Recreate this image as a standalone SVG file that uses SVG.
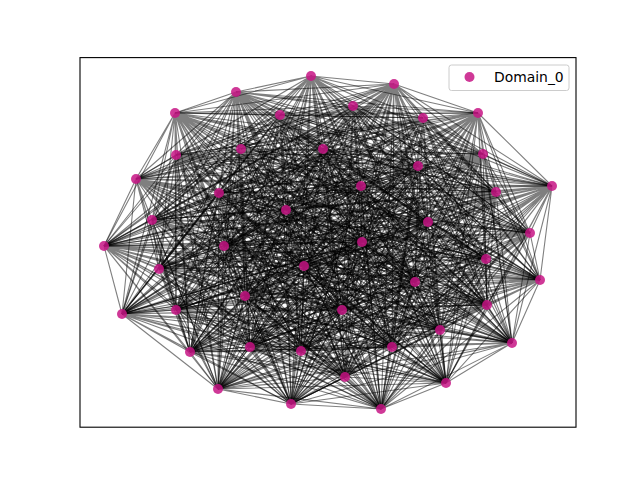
<svg xmlns="http://www.w3.org/2000/svg" width="640" height="480" viewBox="0 0 640 480">
<style>
.e{fill:none;stroke:#000;stroke-opacity:0.5;stroke-width:1.1}
.n{fill:#c71585;fill-opacity:0.85}
.lt{font-family:"DejaVu Sans",sans-serif;font-size:13.9px;fill:#000}
</style>
<rect x="0" y="0" width="640" height="480" fill="#fff"/>
<g id="edges">
<path class="e" d="M311 76L394 84M311 76L236 92M311 76L353 106M311 76L280 115M311 76L175 113M311 76L423 118M311 76L478 113M311 76L241 149M311 76L323 149M311 76L176 155M311 76L483 154M311 76L418 166M311 76L136 179M311 76L361 186M311 76L552 186M311 76L496 192M311 76L219 193M311 76L286 210M311 76L152 220M311 76L428 222M311 76L530 233M311 76L224 246M311 76L362 242M311 76L104 246M311 76L486 259M311 76L159 269M311 76L304 266M311 76L540 280M311 76L415 282M311 76L245 296M311 76L176 310M311 76L122 314M311 76L487 305M311 76L342 310M311 76L440 330M311 76L512 343M311 76L190 352M311 76L250 347M311 76L301 351M311 76L392 347M311 76L345 377M311 76L218 389M311 76L446 383M311 76L291 404M311 76L381 409"/>
<path class="e" d="M394 84L236 92M394 84L353 106M394 84L280 115M394 84L175 113M394 84L423 118M394 84L478 113M394 84L241 149M394 84L323 149M394 84L176 155M394 84L483 154M394 84L418 166M394 84L136 179M394 84L361 186M394 84L552 186M394 84L496 192M394 84L219 193M394 84L286 210M394 84L152 220M394 84L428 222M394 84L530 233M394 84L224 246M394 84L362 242M394 84L104 246M394 84L486 259M394 84L159 269M394 84L304 266M394 84L540 280M394 84L415 282M394 84L245 296M394 84L176 310M394 84L122 314M394 84L487 305M394 84L342 310M394 84L440 330M394 84L512 343M394 84L190 352M394 84L250 347M394 84L301 351M394 84L392 347M394 84L345 377M394 84L218 389M394 84L446 383M394 84L291 404M394 84L381 409"/>
<path class="e" d="M236 92L353 106M236 92L280 115M236 92L175 113M236 92L423 118M236 92L478 113M236 92L241 149M236 92L323 149M236 92L176 155M236 92L483 154M236 92L418 166M236 92L136 179M236 92L361 186M236 92L552 186M236 92L496 192M236 92L219 193M236 92L286 210M236 92L152 220M236 92L428 222M236 92L530 233M236 92L224 246M236 92L362 242M236 92L104 246M236 92L486 259M236 92L159 269M236 92L304 266M236 92L540 280M236 92L415 282M236 92L245 296M236 92L176 310M236 92L122 314M236 92L487 305M236 92L342 310M236 92L440 330M236 92L512 343M236 92L190 352M236 92L250 347M236 92L301 351M236 92L392 347M236 92L345 377M236 92L218 389M236 92L446 383M236 92L291 404M236 92L381 409"/>
<path class="e" d="M353 106L280 115M353 106L175 113M353 106L423 118M353 106L478 113M353 106L241 149M353 106L323 149M353 106L176 155M353 106L483 154M353 106L418 166M353 106L136 179M353 106L361 186M353 106L552 186M353 106L496 192M353 106L219 193M353 106L286 210M353 106L152 220M353 106L428 222M353 106L530 233M353 106L224 246M353 106L362 242M353 106L104 246M353 106L486 259M353 106L159 269M353 106L304 266M353 106L540 280M353 106L415 282M353 106L245 296M353 106L176 310M353 106L122 314M353 106L487 305M353 106L342 310M353 106L440 330M353 106L512 343M353 106L190 352M353 106L250 347M353 106L301 351M353 106L392 347M353 106L345 377M353 106L218 389M353 106L446 383M353 106L291 404M353 106L381 409"/>
<path class="e" d="M280 115L175 113M280 115L423 118M280 115L478 113M280 115L241 149M280 115L323 149M280 115L176 155M280 115L483 154M280 115L418 166M280 115L136 179M280 115L361 186M280 115L552 186M280 115L496 192M280 115L219 193M280 115L286 210M280 115L152 220M280 115L428 222M280 115L530 233M280 115L224 246M280 115L362 242M280 115L104 246M280 115L486 259M280 115L159 269M280 115L304 266M280 115L540 280M280 115L415 282M280 115L245 296M280 115L176 310M280 115L122 314M280 115L487 305M280 115L342 310M280 115L440 330M280 115L512 343M280 115L190 352M280 115L250 347M280 115L301 351M280 115L392 347M280 115L345 377M280 115L218 389M280 115L446 383M280 115L291 404M280 115L381 409"/>
<path class="e" d="M175 113L423 118M175 113L478 113M175 113L241 149M175 113L323 149M175 113L176 155M175 113L483 154M175 113L418 166M175 113L136 179M175 113L361 186M175 113L552 186M175 113L496 192M175 113L219 193M175 113L286 210M175 113L152 220M175 113L428 222M175 113L530 233M175 113L224 246M175 113L362 242M175 113L104 246M175 113L486 259M175 113L159 269M175 113L304 266M175 113L540 280M175 113L415 282M175 113L245 296M175 113L176 310M175 113L122 314M175 113L487 305M175 113L342 310M175 113L440 330M175 113L512 343M175 113L190 352M175 113L250 347M175 113L301 351M175 113L392 347M175 113L345 377M175 113L218 389M175 113L446 383M175 113L291 404M175 113L381 409"/>
<path class="e" d="M423 118L478 113M423 118L241 149M423 118L323 149M423 118L176 155M423 118L483 154M423 118L418 166M423 118L136 179M423 118L361 186M423 118L552 186M423 118L496 192M423 118L219 193M423 118L286 210M423 118L152 220M423 118L428 222M423 118L530 233M423 118L224 246M423 118L362 242M423 118L104 246M423 118L486 259M423 118L159 269M423 118L304 266M423 118L540 280M423 118L415 282M423 118L245 296M423 118L176 310M423 118L122 314M423 118L487 305M423 118L342 310M423 118L440 330M423 118L512 343M423 118L190 352M423 118L250 347M423 118L301 351M423 118L392 347M423 118L345 377M423 118L218 389M423 118L446 383M423 118L291 404M423 118L381 409"/>
<path class="e" d="M478 113L241 149M478 113L323 149M478 113L176 155M478 113L483 154M478 113L418 166M478 113L136 179M478 113L361 186M478 113L552 186M478 113L496 192M478 113L219 193M478 113L286 210M478 113L152 220M478 113L428 222M478 113L530 233M478 113L224 246M478 113L362 242M478 113L104 246M478 113L486 259M478 113L159 269M478 113L304 266M478 113L540 280M478 113L415 282M478 113L245 296M478 113L176 310M478 113L122 314M478 113L487 305M478 113L342 310M478 113L440 330M478 113L512 343M478 113L190 352M478 113L250 347M478 113L301 351M478 113L392 347M478 113L345 377M478 113L218 389M478 113L446 383M478 113L291 404M478 113L381 409"/>
<path class="e" d="M241 149L323 149M241 149L176 155M241 149L483 154M241 149L418 166M241 149L136 179M241 149L361 186M241 149L552 186M241 149L496 192M241 149L219 193M241 149L286 210M241 149L152 220M241 149L428 222M241 149L530 233M241 149L224 246M241 149L362 242M241 149L104 246M241 149L486 259M241 149L159 269M241 149L304 266M241 149L540 280M241 149L415 282M241 149L245 296M241 149L176 310M241 149L122 314M241 149L487 305M241 149L342 310M241 149L440 330M241 149L512 343M241 149L190 352M241 149L250 347M241 149L301 351M241 149L392 347M241 149L345 377M241 149L218 389M241 149L446 383M241 149L291 404M241 149L381 409"/>
<path class="e" d="M323 149L176 155M323 149L483 154M323 149L418 166M323 149L136 179M323 149L361 186M323 149L552 186M323 149L496 192M323 149L219 193M323 149L286 210M323 149L152 220M323 149L428 222M323 149L530 233M323 149L224 246M323 149L362 242M323 149L104 246M323 149L486 259M323 149L159 269M323 149L304 266M323 149L540 280M323 149L415 282M323 149L245 296M323 149L176 310M323 149L122 314M323 149L487 305M323 149L342 310M323 149L440 330M323 149L512 343M323 149L190 352M323 149L250 347M323 149L301 351M323 149L392 347M323 149L345 377M323 149L218 389M323 149L446 383M323 149L291 404M323 149L381 409"/>
<path class="e" d="M176 155L483 154M176 155L418 166M176 155L136 179M176 155L361 186M176 155L552 186M176 155L496 192M176 155L219 193M176 155L286 210M176 155L152 220M176 155L428 222M176 155L530 233M176 155L224 246M176 155L362 242M176 155L104 246M176 155L486 259M176 155L159 269M176 155L304 266M176 155L540 280M176 155L415 282M176 155L245 296M176 155L176 310M176 155L122 314M176 155L487 305M176 155L342 310M176 155L440 330M176 155L512 343M176 155L190 352M176 155L250 347M176 155L301 351M176 155L392 347M176 155L345 377M176 155L218 389M176 155L446 383M176 155L291 404M176 155L381 409"/>
<path class="e" d="M483 154L418 166M483 154L136 179M483 154L361 186M483 154L552 186M483 154L496 192M483 154L219 193M483 154L286 210M483 154L152 220M483 154L428 222M483 154L530 233M483 154L224 246M483 154L362 242M483 154L104 246M483 154L486 259M483 154L159 269M483 154L304 266M483 154L540 280M483 154L415 282M483 154L245 296M483 154L176 310M483 154L122 314M483 154L487 305M483 154L342 310M483 154L440 330M483 154L512 343M483 154L190 352M483 154L250 347M483 154L301 351M483 154L392 347M483 154L345 377M483 154L218 389M483 154L446 383M483 154L291 404M483 154L381 409"/>
<path class="e" d="M418 166L136 179M418 166L361 186M418 166L552 186M418 166L496 192M418 166L219 193M418 166L286 210M418 166L152 220M418 166L428 222M418 166L530 233M418 166L224 246M418 166L362 242M418 166L104 246M418 166L486 259M418 166L159 269M418 166L304 266M418 166L540 280M418 166L415 282M418 166L245 296M418 166L176 310M418 166L122 314M418 166L487 305M418 166L342 310M418 166L440 330M418 166L512 343M418 166L190 352M418 166L250 347M418 166L301 351M418 166L392 347M418 166L345 377M418 166L218 389M418 166L446 383M418 166L291 404M418 166L381 409"/>
<path class="e" d="M136 179L361 186M136 179L552 186M136 179L496 192M136 179L219 193M136 179L286 210M136 179L152 220M136 179L428 222M136 179L530 233M136 179L224 246M136 179L362 242M136 179L104 246M136 179L486 259M136 179L159 269M136 179L304 266M136 179L540 280M136 179L415 282M136 179L245 296M136 179L176 310M136 179L122 314M136 179L487 305M136 179L342 310M136 179L440 330M136 179L512 343M136 179L190 352M136 179L250 347M136 179L301 351M136 179L392 347M136 179L345 377M136 179L218 389M136 179L446 383M136 179L291 404M136 179L381 409"/>
<path class="e" d="M361 186L552 186M361 186L496 192M361 186L219 193M361 186L286 210M361 186L152 220M361 186L428 222M361 186L530 233M361 186L224 246M361 186L362 242M361 186L104 246M361 186L486 259M361 186L159 269M361 186L304 266M361 186L540 280M361 186L415 282M361 186L245 296M361 186L176 310M361 186L122 314M361 186L487 305M361 186L342 310M361 186L440 330M361 186L512 343M361 186L190 352M361 186L250 347M361 186L301 351M361 186L392 347M361 186L345 377M361 186L218 389M361 186L446 383M361 186L291 404M361 186L381 409"/>
<path class="e" d="M552 186L496 192M552 186L219 193M552 186L286 210M552 186L152 220M552 186L428 222M552 186L530 233M552 186L224 246M552 186L362 242M552 186L104 246M552 186L486 259M552 186L159 269M552 186L304 266M552 186L540 280M552 186L415 282M552 186L245 296M552 186L176 310M552 186L122 314M552 186L487 305M552 186L342 310M552 186L440 330M552 186L512 343M552 186L190 352M552 186L250 347M552 186L301 351M552 186L392 347M552 186L345 377M552 186L218 389M552 186L446 383M552 186L291 404M552 186L381 409"/>
<path class="e" d="M496 192L219 193M496 192L286 210M496 192L152 220M496 192L428 222M496 192L530 233M496 192L224 246M496 192L362 242M496 192L104 246M496 192L486 259M496 192L159 269M496 192L304 266M496 192L540 280M496 192L415 282M496 192L245 296M496 192L176 310M496 192L122 314M496 192L487 305M496 192L342 310M496 192L440 330M496 192L512 343M496 192L190 352M496 192L250 347M496 192L301 351M496 192L392 347M496 192L345 377M496 192L218 389M496 192L446 383M496 192L291 404M496 192L381 409"/>
<path class="e" d="M219 193L286 210M219 193L152 220M219 193L428 222M219 193L530 233M219 193L224 246M219 193L362 242M219 193L104 246M219 193L486 259M219 193L159 269M219 193L304 266M219 193L540 280M219 193L415 282M219 193L245 296M219 193L176 310M219 193L122 314M219 193L487 305M219 193L342 310M219 193L440 330M219 193L512 343M219 193L190 352M219 193L250 347M219 193L301 351M219 193L392 347M219 193L345 377M219 193L218 389M219 193L446 383M219 193L291 404M219 193L381 409"/>
<path class="e" d="M286 210L152 220M286 210L428 222M286 210L530 233M286 210L224 246M286 210L362 242M286 210L104 246M286 210L486 259M286 210L159 269M286 210L304 266M286 210L540 280M286 210L415 282M286 210L245 296M286 210L176 310M286 210L122 314M286 210L487 305M286 210L342 310M286 210L440 330M286 210L512 343M286 210L190 352M286 210L250 347M286 210L301 351M286 210L392 347M286 210L345 377M286 210L218 389M286 210L446 383M286 210L291 404M286 210L381 409"/>
<path class="e" d="M152 220L428 222M152 220L530 233M152 220L224 246M152 220L362 242M152 220L104 246M152 220L486 259M152 220L159 269M152 220L304 266M152 220L540 280M152 220L415 282M152 220L245 296M152 220L176 310M152 220L122 314M152 220L487 305M152 220L342 310M152 220L440 330M152 220L512 343M152 220L190 352M152 220L250 347M152 220L301 351M152 220L392 347M152 220L345 377M152 220L218 389M152 220L446 383M152 220L291 404M152 220L381 409"/>
<path class="e" d="M428 222L530 233M428 222L224 246M428 222L362 242M428 222L104 246M428 222L486 259M428 222L159 269M428 222L304 266M428 222L540 280M428 222L415 282M428 222L245 296M428 222L176 310M428 222L122 314M428 222L487 305M428 222L342 310M428 222L440 330M428 222L512 343M428 222L190 352M428 222L250 347M428 222L301 351M428 222L392 347M428 222L345 377M428 222L218 389M428 222L446 383M428 222L291 404M428 222L381 409"/>
<path class="e" d="M530 233L224 246M530 233L362 242M530 233L104 246M530 233L486 259M530 233L159 269M530 233L304 266M530 233L540 280M530 233L415 282M530 233L245 296M530 233L176 310M530 233L122 314M530 233L487 305M530 233L342 310M530 233L440 330M530 233L512 343M530 233L190 352M530 233L250 347M530 233L301 351M530 233L392 347M530 233L345 377M530 233L218 389M530 233L446 383M530 233L291 404M530 233L381 409"/>
<path class="e" d="M224 246L362 242M224 246L104 246M224 246L486 259M224 246L159 269M224 246L304 266M224 246L540 280M224 246L415 282M224 246L245 296M224 246L176 310M224 246L122 314M224 246L487 305M224 246L342 310M224 246L440 330M224 246L512 343M224 246L190 352M224 246L250 347M224 246L301 351M224 246L392 347M224 246L345 377M224 246L218 389M224 246L446 383M224 246L291 404M224 246L381 409"/>
<path class="e" d="M362 242L104 246M362 242L486 259M362 242L159 269M362 242L304 266M362 242L540 280M362 242L415 282M362 242L245 296M362 242L176 310M362 242L122 314M362 242L487 305M362 242L342 310M362 242L440 330M362 242L512 343M362 242L190 352M362 242L250 347M362 242L301 351M362 242L392 347M362 242L345 377M362 242L218 389M362 242L446 383M362 242L291 404M362 242L381 409"/>
<path class="e" d="M104 246L486 259M104 246L159 269M104 246L304 266M104 246L540 280M104 246L415 282M104 246L245 296M104 246L176 310M104 246L122 314M104 246L487 305M104 246L342 310M104 246L440 330M104 246L512 343M104 246L190 352M104 246L250 347M104 246L301 351M104 246L392 347M104 246L345 377M104 246L218 389M104 246L446 383M104 246L291 404M104 246L381 409"/>
<path class="e" d="M486 259L159 269M486 259L304 266M486 259L540 280M486 259L415 282M486 259L245 296M486 259L176 310M486 259L122 314M486 259L487 305M486 259L342 310M486 259L440 330M486 259L512 343M486 259L190 352M486 259L250 347M486 259L301 351M486 259L392 347M486 259L345 377M486 259L218 389M486 259L446 383M486 259L291 404M486 259L381 409"/>
<path class="e" d="M159 269L304 266M159 269L540 280M159 269L415 282M159 269L245 296M159 269L176 310M159 269L122 314M159 269L487 305M159 269L342 310M159 269L440 330M159 269L512 343M159 269L190 352M159 269L250 347M159 269L301 351M159 269L392 347M159 269L345 377M159 269L218 389M159 269L446 383M159 269L291 404M159 269L381 409"/>
<path class="e" d="M304 266L540 280M304 266L415 282M304 266L245 296M304 266L176 310M304 266L122 314M304 266L487 305M304 266L342 310M304 266L440 330M304 266L512 343M304 266L190 352M304 266L250 347M304 266L301 351M304 266L392 347M304 266L345 377M304 266L218 389M304 266L446 383M304 266L291 404M304 266L381 409"/>
<path class="e" d="M540 280L415 282M540 280L245 296M540 280L176 310M540 280L122 314M540 280L487 305M540 280L342 310M540 280L440 330M540 280L512 343M540 280L190 352M540 280L250 347M540 280L301 351M540 280L392 347M540 280L345 377M540 280L218 389M540 280L446 383M540 280L291 404M540 280L381 409"/>
<path class="e" d="M415 282L245 296M415 282L176 310M415 282L122 314M415 282L487 305M415 282L342 310M415 282L440 330M415 282L512 343M415 282L190 352M415 282L250 347M415 282L301 351M415 282L392 347M415 282L345 377M415 282L218 389M415 282L446 383M415 282L291 404M415 282L381 409"/>
<path class="e" d="M245 296L176 310M245 296L122 314M245 296L487 305M245 296L342 310M245 296L440 330M245 296L512 343M245 296L190 352M245 296L250 347M245 296L301 351M245 296L392 347M245 296L345 377M245 296L218 389M245 296L446 383M245 296L291 404M245 296L381 409"/>
<path class="e" d="M176 310L122 314M176 310L487 305M176 310L342 310M176 310L440 330M176 310L512 343M176 310L190 352M176 310L250 347M176 310L301 351M176 310L392 347M176 310L345 377M176 310L218 389M176 310L446 383M176 310L291 404M176 310L381 409"/>
<path class="e" d="M122 314L487 305M122 314L342 310M122 314L440 330M122 314L512 343M122 314L190 352M122 314L250 347M122 314L301 351M122 314L392 347M122 314L345 377M122 314L218 389M122 314L446 383M122 314L291 404M122 314L381 409"/>
<path class="e" d="M487 305L342 310M487 305L440 330M487 305L512 343M487 305L190 352M487 305L250 347M487 305L301 351M487 305L392 347M487 305L345 377M487 305L218 389M487 305L446 383M487 305L291 404M487 305L381 409"/>
<path class="e" d="M342 310L440 330M342 310L512 343M342 310L190 352M342 310L250 347M342 310L301 351M342 310L392 347M342 310L345 377M342 310L218 389M342 310L446 383M342 310L291 404M342 310L381 409"/>
<path class="e" d="M440 330L512 343M440 330L190 352M440 330L250 347M440 330L301 351M440 330L392 347M440 330L345 377M440 330L218 389M440 330L446 383M440 330L291 404M440 330L381 409"/>
<path class="e" d="M512 343L190 352M512 343L250 347M512 343L301 351M512 343L392 347M512 343L345 377M512 343L218 389M512 343L446 383M512 343L291 404M512 343L381 409"/>
<path class="e" d="M190 352L250 347M190 352L301 351M190 352L392 347M190 352L345 377M190 352L218 389M190 352L446 383M190 352L291 404M190 352L381 409"/>
<path class="e" d="M250 347L301 351M250 347L392 347M250 347L345 377M250 347L218 389M250 347L446 383M250 347L291 404M250 347L381 409"/>
<path class="e" d="M301 351L392 347M301 351L345 377M301 351L218 389M301 351L446 383M301 351L291 404M301 351L381 409"/>
<path class="e" d="M392 347L345 377M392 347L218 389M392 347L446 383M392 347L291 404M392 347L381 409"/>
<path class="e" d="M345 377L218 389M345 377L446 383M345 377L291 404M345 377L381 409"/>
<path class="e" d="M218 389L446 383M218 389L291 404M218 389L381 409"/>
<path class="e" d="M446 383L291 404M446 383L381 409"/>
<path class="e" d="M291 404L381 409"/>
</g>
<g id="nodes">
<g id="n0"><circle class="n" cx="311" cy="76" r="5"/></g>
<g id="n1"><circle class="n" cx="394" cy="84" r="5"/></g>
<g id="n2"><circle class="n" cx="236" cy="92" r="5"/></g>
<g id="n3"><circle class="n" cx="353" cy="106" r="5"/></g>
<g id="n4"><circle class="n" cx="280" cy="115" r="5"/></g>
<g id="n5"><circle class="n" cx="175" cy="113" r="5"/></g>
<g id="n6"><circle class="n" cx="423" cy="118" r="5"/></g>
<g id="n7"><circle class="n" cx="478" cy="113" r="5"/></g>
<g id="n8"><circle class="n" cx="241" cy="149" r="5"/></g>
<g id="n9"><circle class="n" cx="323" cy="149" r="5"/></g>
<g id="n10"><circle class="n" cx="176" cy="155" r="5"/></g>
<g id="n11"><circle class="n" cx="483" cy="154" r="5"/></g>
<g id="n12"><circle class="n" cx="418" cy="166" r="5"/></g>
<g id="n13"><circle class="n" cx="136" cy="179" r="5"/></g>
<g id="n14"><circle class="n" cx="361" cy="186" r="5"/></g>
<g id="n15"><circle class="n" cx="552" cy="186" r="5"/></g>
<g id="n16"><circle class="n" cx="496" cy="192" r="5"/></g>
<g id="n17"><circle class="n" cx="219" cy="193" r="5"/></g>
<g id="n18"><circle class="n" cx="286" cy="210" r="5"/></g>
<g id="n19"><circle class="n" cx="152" cy="220" r="5"/></g>
<g id="n20"><circle class="n" cx="428" cy="222" r="5"/></g>
<g id="n21"><circle class="n" cx="530" cy="233" r="5"/></g>
<g id="n22"><circle class="n" cx="224" cy="246" r="5"/></g>
<g id="n23"><circle class="n" cx="362" cy="242" r="5"/></g>
<g id="n24"><circle class="n" cx="104" cy="246" r="5"/></g>
<g id="n25"><circle class="n" cx="486" cy="259" r="5"/></g>
<g id="n26"><circle class="n" cx="159" cy="269" r="5"/></g>
<g id="n27"><circle class="n" cx="304" cy="266" r="5"/></g>
<g id="n28"><circle class="n" cx="540" cy="280" r="5"/></g>
<g id="n29"><circle class="n" cx="415" cy="282" r="5"/></g>
<g id="n30"><circle class="n" cx="245" cy="296" r="5"/></g>
<g id="n31"><circle class="n" cx="176" cy="310" r="5"/></g>
<g id="n32"><circle class="n" cx="122" cy="314" r="5"/></g>
<g id="n33"><circle class="n" cx="487" cy="305" r="5"/></g>
<g id="n34"><circle class="n" cx="342" cy="310" r="5"/></g>
<g id="n35"><circle class="n" cx="440" cy="330" r="5"/></g>
<g id="n36"><circle class="n" cx="512" cy="343" r="5"/></g>
<g id="n37"><circle class="n" cx="190" cy="352" r="5"/></g>
<g id="n38"><circle class="n" cx="250" cy="347" r="5"/></g>
<g id="n39"><circle class="n" cx="301" cy="351" r="5"/></g>
<g id="n40"><circle class="n" cx="392" cy="347" r="5"/></g>
<g id="n41"><circle class="n" cx="345" cy="377" r="5"/></g>
<g id="n42"><circle class="n" cx="218" cy="389" r="5"/></g>
<g id="n43"><circle class="n" cx="446" cy="383" r="5"/></g>
<g id="n44"><circle class="n" cx="291" cy="404" r="5"/></g>
<g id="n45"><circle class="n" cx="381" cy="409" r="5"/></g>
</g>
<rect id="axes" x="80" y="57.6" width="496" height="369.6" fill="none" stroke="#000" stroke-width="1.1"/>
<g id="legend">
<rect x="449" y="65" width="120" height="25.5" rx="2.5" fill="#fff" fill-opacity="0.8" stroke="#ccc" stroke-width="1"/>
<circle class="n" cx="469.5" cy="77" r="5"/>
<text class="lt" x="494" y="82">Domain_0</text>
</g>
</svg>
